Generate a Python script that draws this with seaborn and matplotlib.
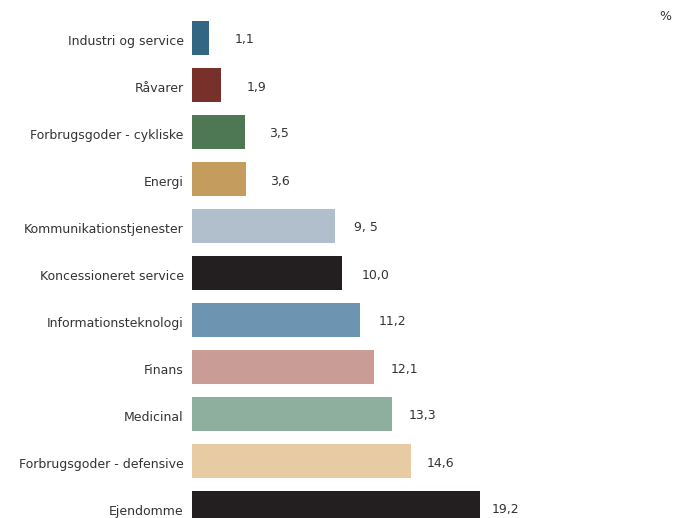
import matplotlib
matplotlib.use("Agg")
import matplotlib.pyplot as plt
import matplotlib.transforms as mtransforms
import seaborn as sns
import pandas as pd

categories = ["Industri og service", "Råvarer", "Forbrugsgoder - cykliske", "Energi",
              "Kommunikationstjenester", "Koncessioneret service", "Informationsteknologi",
              "Finans", "Medicinal", "Forbrugsgoder - defensive", "Ejendomme"]
values = [1.1, 1.9, 3.5, 3.6, 9.5, 10.0, 11.2, 12.1, 13.3, 14.6, 19.2]
value_labels = ["1,1", "1,9", "3,5", "3,6", "9, 5", "10,0", "11,2", "12,1", "13,3", "14,6", "19,2"]
colors = ["#336683", "#77302A", "#4E7854", "#C49D5E", "#B1BFCC", "#231F20",
          "#6D95B2", "#C99D96", "#8EAF9D", "#E6CBA3", "#231F20"]
unit = "%"

sns.set_theme(style="white")
plt.rcParams['font.family'] = ['DejaVu Sans']

df = pd.DataFrame({"cat": categories, "val": values})
fig = plt.figure(figsize=(6.84, 5.18), dpi=100)
ax = fig.add_axes([192/684, 0, 1 - 192/684, 1])
sns.barplot(data=df, x="val", y="cat", hue="cat", palette=colors, legend=False,
            width=34/47, ax=ax, saturation=1, linewidth=0, edgecolor="none")
ax.set_xlim(0, 492/15)
ax.set_ylim(10 + (518-38-470)/47, -38/47)
for s in ax.spines.values():
    s.set_visible(False)
ax.set_xticks([])
ax.set_xlabel("")
ax.set_ylabel("")
ax.tick_params(axis="y", length=0, pad=6, labelsize=9, labelcolor="#333333")
down = mtransforms.ScaledTranslation(0, -2/100, fig.dpi_scale_trans)
for t in ax.get_yticklabels():
    t.set_transform(t.get_transform() + down)
for i, (v, lab) in enumerate(zip(values, value_labels)):
    ax.text(v * 0.946 + 1.83, i, lab, va="center", ha="left", fontsize=9,
            color="#333333", transform=ax.transData + down)
fig.text(665/684, 1 - 17/518, unit, ha="center", va="center", fontsize=9, color="#333333")
fig.savefig("out.png", dpi=100)
